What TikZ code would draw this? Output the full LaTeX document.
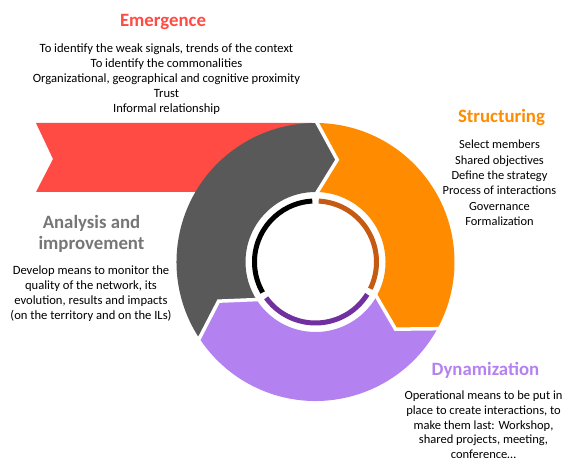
\documentclass[tikz,border=0pt]{standalone}
\usepackage{fontspec}
\setmainfont{Carlito}
\definecolor{emred}{RGB}{255,75,68}
\definecolor{stor}{RGB}{255,140,0}
\definecolor{dylav}{RGB}{180,130,240}
\definecolor{angray}{RGB}{89,89,89}
\definecolor{antxt}{RGB}{118,118,118}
\definecolor{ringbr}{RGB}{197,90,17}
\definecolor{ringpu}{RGB}{112,48,160}

\begin{document}
\begin{tikzpicture}[x=1pt,y=1pt,
  body/.style={align=center,font=\fontsize{12.6}{15}\selectfont,inner sep=0pt},
  head/.style={align=center,font=\fontsize{18.8}{21}\selectfont\bfseries,inner sep=0pt}]
\def\R{139}
\def\r{70}
\def\m{104.5}
\def\d{12}
\useasboundingbox (0,0) rectangle (566,458);
\clip (0,0) rectangle (566,458);

% emergence ribbon, behind the wheel
\fill[emred] (36,335) -- (312,335) -- (312,266) -- (36,266) -- (53,299) -- cycle;

\begin{scope}[shift={(315.5,196)}] % wheel centre
\fill[angray] (214:\R) arc[start angle=214,end angle=90,radius=\R]
 -- (90-\d:\m) -- (90:\r) arc[start angle=90,end angle=214,radius=\r]
 -- (214-\d:\m) -- cycle;
\fill[stor] (90:\R) arc[start angle=90,end angle=-28,radius=\R]
 -- (-28-\d:\m) -- (-28:\r) arc[start angle=-28,end angle=90,radius=\r]
 -- (90-\d:\m) -- cycle;
\fill[dylav] (-28:\R) arc[start angle=-28,end angle=-146,radius=\R]
 -- (-146-\d:\m) -- (-146:\r) arc[start angle=-146,end angle=-28,radius=\r]
 -- (-28-\d:\m) -- cycle;
% white joints
\draw[white,line width=3.5pt] (90:\R+3) -- (90-\d:\m) -- (90:\r-3);
\draw[white,line width=3.5pt] (-28:\R+3) -- (-28-\d:\m) -- (-28:\r-3);
\draw[white,line width=3.5pt] (-146:\R+3) -- (-146-\d:\m) -- (-146:\r-3);
% inner ring
\draw[black,line width=5pt] (93:61) arc[start angle=93,end angle=210,radius=61];
\draw[ringbr,line width=5pt] (87:61) arc[start angle=87,end angle=-26,radius=61];
\draw[ringpu,line width=5pt] (-32:61) arc[start angle=-32,end angle=-144,radius=61];
\end{scope}

% emergence
\node[head,text=emred] (emtitle) at (163,435.5) {Emergence};
\node[body] (emtext) at (166.5,378.5) {To identify the weak signals, trends of the context\\
To identify the commonalities\\
Organizational, geographical and cognitive proximity\\
Trust\\
Informal relationship};

% structuring
\node[head,text=stor] (sttitle) at (501.5,340.5) {Structuring};
\node[body,font=\fontsize{12.4}{15.4}\selectfont] (sttext) at (499.5,275) {Select members\\
Shared objectives\\
Define the strategy\\
Process of interactions\\
Governance\\
Formalization};

% analysis
\node[head,text=antxt] (antitle) at (91.5,224.5) {Analysis and\\improvement};
\node[body] (antext) at (91,164) {Develop means to monitor the\\
quality of the network, its\\
evolution, results and impacts\\
(on the territory and on the ILs)};

% dynamization
\node[head,text=dylav] (dytitle) at (485.5,88) {Dynamization};
\node[body,font=\fontsize{12.5}{14.6}\selectfont,anchor=north] (dytext) at (483.5,67) {Operational means to be put in\\
place to create interactions, to\\
make them last: Workshop,\\
shared projects, meeting,\\
conference…};
\end{tikzpicture}
\end{document}
